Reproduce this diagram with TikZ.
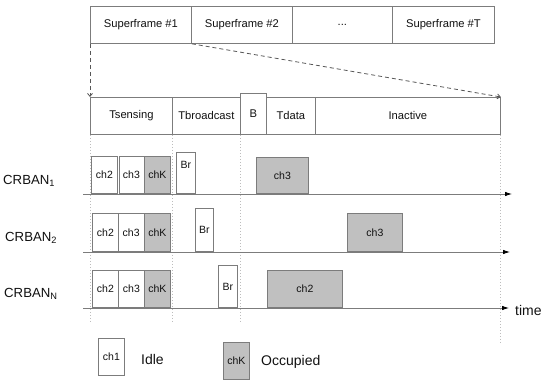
\documentclass[tikz,border=0pt]{standalone}
\usepackage{fontspec}
\setmainfont{Liberation Sans}
\usetikzlibrary{arrows.meta}
\definecolor{edge}{HTML}{7C7C7C}
\definecolor{occ}{HTML}{C0C0C0}
\definecolor{guide}{HTML}{BDBDBD}
\definecolor{txt}{HTML}{111111}
\begin{document}
\begin{tikzpicture}[x=1pt,y=-1pt,
  cell/.style={draw=edge, line width=0.8pt, inner sep=0pt, anchor=north west,
    font=\fontsize{11.2}{13}\selectfont, text=txt},
  idlebox/.style={draw=edge, fill=white, line width=0.8pt, inner sep=0pt, anchor=south west,
    font=\fontsize{10.5}{12}\selectfont, text=txt},
  occbox/.style={idlebox, fill=occ},
  timeaxis/.style={draw=edge, line width=0.8pt, -{Latex[length=7pt,width=4.5pt,color=black]}},
  guideline/.style={draw=guide, line width=0.7pt, dash pattern=on 1.5pt off 1.5pt},
  zoomline/.style={draw=edge!70!black, line width=0.8pt, dash pattern=on 4pt off 3pt, -{Straight Barb[length=3pt,width=5pt]}},
  rowlabel/.style={anchor=west, font=\fontsize{13.2}{15}\selectfont, text=txt, inner sep=0pt},
  legendtext/.style={anchor=west, font=\fontsize{14}{16}\selectfont, text=txt, inner sep=0pt}
]
\useasboundingbox (0,0) rectangle (550,385);

% superframes
\node[cell, minimum width=101pt, minimum height=37pt] (sf1) at (90,6) {Superframe \#1};
\node[cell, minimum width=101pt, minimum height=37pt] (sf2) at (191,6) {Superframe \#2};
\node[cell, minimum width=100pt, minimum height=37pt] (sf3) at (292,6) {...};
\node[cell, minimum width=102pt, minimum height=37pt] (sf4) at (392,6) {Superframe \#T};

% superframe structure
\node[cell, minimum width=82pt, minimum height=37pt] (ts) at (90,97) {Tsensing};
\node[cell, minimum width=68pt, minimum height=37pt] (tb) at (172,97) {Tbroadcast};
\node[cell, minimum width=26pt, minimum height=41pt] (bb) at (240,93) {B};
\node[cell, minimum width=49pt, minimum height=37pt] (td) at (266,97) {Tdata};
\node[cell, minimum width=185pt, minimum height=37pt] (in) at (315,97) {Inactive};

% zoom lines
\draw[zoomline] (sf1.south west) -- (ts.north west);
\draw[zoomline] (sf1.south east) -- (in.north east);

% guide lines
\coordinate (gend) at (0,323);
\coordinate (gendR) at (0,342);
\draw[guideline] (ts.south west) -- (ts.south west |- gend);
\draw[guideline] (tb.south west) -- (tb.south west |- gend);
\draw[guideline] (bb.south west) -- (bb.south west |- gend);
\draw[guideline] (in.south east) -- (in.south east |- gendR);

% axes
\coordinate (a1s) at (83,194); \coordinate (a1e) at (512,194);
\coordinate (a2s) at (83,252); \coordinate (a2e) at (510,252);
\coordinate (a3s) at (83,308); \coordinate (a3e) at (509,308);

% row 1
\node[idlebox, minimum width=26pt, minimum height=37pt] (r1c2) at (91,194) {ch2};
\node[idlebox, minimum width=25pt, minimum height=37pt] (r1c3) at (118.5,194) {ch3};
\node[occbox, minimum width=26pt, minimum height=37pt] (r1ck) at (144,194) {chK};
\node[idlebox, minimum width=19pt, minimum height=41pt, text height=8pt, text depth=17pt] (r1br) at (176,194) {Br};
\node[occbox, minimum width=52pt, minimum height=36pt] (r1d) at (256,194) {ch3};
\draw[timeaxis] (a1s) -- (a1e);

% row 2
\node[idlebox, minimum width=26pt, minimum height=38pt] (r2c2) at (92,252) {ch2};
\node[idlebox, minimum width=25.5pt, minimum height=38pt] (r2c3) at (118,252) {ch3};
\node[occbox, minimum width=26pt, minimum height=38pt] (r2ck) at (144,252) {chK};
\node[idlebox, minimum width=18pt, minimum height=43pt] (r2br) at (195,252) {Br};
\node[occbox, minimum width=55pt, minimum height=38pt] (r2d) at (347,252) {ch3};
\draw[timeaxis] (a2s) -- (a2e);

% row N
\node[idlebox, minimum width=26pt, minimum height=37pt] (r3c2) at (92,308) {ch2};
\node[idlebox, minimum width=26pt, minimum height=37pt] (r3c3) at (118,308) {ch3};
\node[occbox, minimum width=26pt, minimum height=37pt] (r3ck) at (144,308) {chK};
\node[idlebox, minimum width=19pt, minimum height=42pt] (r3br) at (218,308) {Br};
\node[occbox, minimum width=75pt, minimum height=37pt] (r3d) at (267,308) {ch2};
\draw[timeaxis] (a3s) -- (a3e);

% row labels
\node[rowlabel] (l1) at (3,181) {CRBAN\textsubscript{1}};
\node[rowlabel] (l2) at (5,238) {CRBAN\textsubscript{2}};
\node[rowlabel] (l3) at (4,294) {CRBAN\textsubscript{N}};
\node[legendtext] (time) at (515,310) {time};

% legend
\node[idlebox, minimum width=26pt, minimum height=37pt] (lgi) at (98,376) {ch1};
\node[legendtext] (lgit) at (141,359) {Idle};
\node[occbox, minimum width=26pt, minimum height=37pt] (lgo) at (223,380) {chK};
\node[legendtext] (lgot) at (261,362) {Occupied};
\end{tikzpicture}
\end{document}
